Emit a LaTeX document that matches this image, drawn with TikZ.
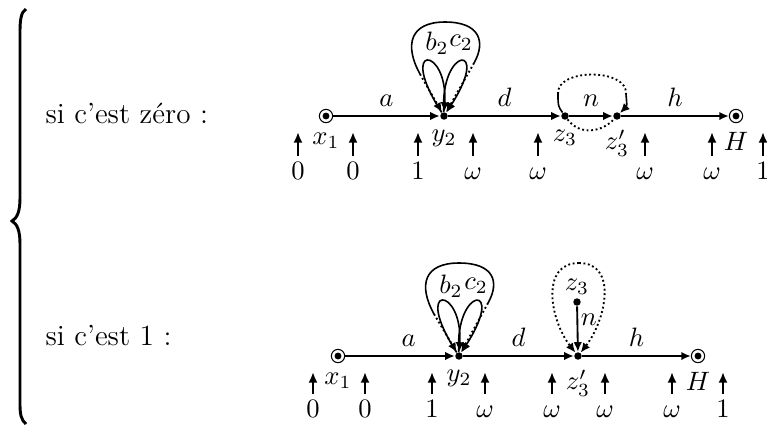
\documentclass[tikz,border=0pt]{standalone}
\usepackage{amsmath,amssymb}
\usepackage{tikz}
\usetikzlibrary{arrows.meta,positioning,calc}

\begin{document}
\begin{tikzpicture}[x=0.376pt, y=-0.376pt, >={Latex[length=3.6pt,width=3.2pt]},
  vtx/.style={circle, fill=black, inner sep=0pt, minimum size=2.8pt},
  term/.style={circle, draw, thin, inner sep=0pt, minimum size=5pt,
    path picture={\fill (path picture bounding box.center) circle (1.3pt);}},
  edge/.style={->, line width=0.7pt},
  lp/.style={line width=0.6pt},
  dlp/.style={line width=0.7pt, densely dotted},
  upar/.style={-{Latex[length=4pt,width=3.4pt]}, line width=1pt},
  wt/.style={anchor=base, text height=6.5pt, text depth=0pt, inner sep=2pt},
  case/.style={anchor=base west, inner sep=0pt, font=\fontsize{11}{13}\selectfont}]
  \useasboundingbox (0,0) rectangle (767,427);

  % left brace
  \draw[line width=1.1pt] (26,9) .. controls (21,12) and (20,20) .. (20,32)
    -- (20,198) .. controls (20,212) and (17,218) .. (12,221)
    .. controls (17,224) and (20,230) .. (20,244)
    -- (20,404) .. controls (20,414) and (21,420) .. (26,424);

  \node[case] (zero) at (45,123) {si c'est zéro :};
  \node[case] (one) at (45,345) {si c'est 1 :};

  % first line
  \node[term, label=below:$x_1$] (x1) at (326,116) {};
  \node[vtx, label=below:$y_2$] (y2) at (444,116) {};
  \node[vtx, label=below:$z_3$] (z3) at (565,116) {};
  \node[vtx, label=below:$z'_3$] (z3p) at (617,116) {};
  \node[term, label=below:$H$] (h1) at (736,116) {};
  \draw[edge] (x1) -- node[above] {$a$} (y2);
  \draw[edge] (y2) -- node[above] {$d$} (z3);
  \draw[edge] (z3) -- node[above] {$n$} (z3p);
  \draw[edge] (z3p) -- node[above] {$h$} (h1);

  % loops b2, c2 on y2
  \coordinate (ta) at (445,22);
  \coordinate (tl) at (420,74);
  \coordinate (tr) at (474,63);
  \draw[lp] (tl) .. controls (404,45) and (410,22) .. (ta)
    .. controls (480,22) and (486,42) .. (tr);
  \draw[dlp, ->] (tl) -- (y2);
  \draw[dlp, ->] (tr) -- (y2);
  \draw[lp, ->] (y2) .. controls (396,42) and (448,46) .. (y2);
  \draw[lp, ->] (y2) .. controls (440,46) and (492,42) .. (y2);
  \node (b2) at (437,43) {$b_2$};
  \node (c2) at (461,43) {$c_2$};

  % loop n between z3 and z3'
  \coordinate (nl) at (558,94);
  \coordinate (nr) at (626,94);
  \draw[lp] (z3) .. controls (558,106) .. (nl);
  \draw[dlp] (nl) .. controls (556,68) and (628,68) .. (nr);
  \draw[lp, ->] (nr) .. controls (627,106) .. (z3p);
  \draw[dlp] (z3) .. controls (580,136) and (602,132) .. (z3p);

  % weights, first line
  \node[wt] (w1) at (298,179) {$0$};
  \node[wt] (w2) at (353,179) {$0$};
  \node[wt] (w3) at (418,179) {$1$};
  \node[wt] (w4) at (473,179) {$\omega$};
  \node[wt] (w5) at (538,179) {$\omega$};
  \node[wt] (w6) at (645,179) {$\omega$};
  \node[wt] (w7) at (712,179) {$\omega$};
  \node[wt] (w8) at (763,179) {$1$};
  \coordinate (u1) at (298,132);
  \coordinate (u2) at (353,132);
  \coordinate (u3) at (418,132);
  \coordinate (u4) at (473,132);
  \coordinate (u5) at (538,132);
  \coordinate (u6) at (645,132);
  \coordinate (u7) at (712,132);
  \coordinate (u8) at (763,132);
  \draw[upar] (w1) -- (u1);
  \draw[upar] (w2) -- (u2);
  \draw[upar] (w3) -- (u3);
  \draw[upar] (w4) -- (u4);
  \draw[upar] (w5) -- (u5);
  \draw[upar] (w6) -- (u6);
  \draw[upar] (w7) -- (u7);
  \draw[upar] (w8) -- (u8);

  % second line
  \node[term, label=below:$x_1$] (x1b) at (338,356) {};
  \node[vtx, label=below:$y_2$] (y2b) at (459,356) {};
  \node[vtx, label=below:$z'_3$] (z3pb) at (578,356) {};
  \node[term, label=below:$H$] (hb) at (698,356) {};
  \node[vtx, label={[inner sep=1pt]above:$z_3$}] (z3b) at (577,302) {};
  \draw[edge] (x1b) -- node[above, pos=0.58] {$a$} (y2b);
  \draw[edge] (y2b) -- node[above] {$d$} (z3pb);
  \draw[edge] (z3pb) -- node[above] {$h$} (hb);
  \draw[edge] (z3b) -- node[right, pos=0.3, inner sep=1pt] {$n$} (z3pb);

  % loops b2, c2 on y2
  \coordinate (tab) at (459,263);
  \coordinate (tlb) at (434,314);
  \coordinate (trb) at (488,303);
  \draw[lp] (tlb) .. controls (418,285) and (424,263) .. (tab)
    .. controls (494,263) and (500,282) .. (trb);
  \draw[dlp, ->] (tlb) -- (y2b);
  \draw[dlp, ->] (trb) -- (y2b);
  \draw[lp, ->] (y2b) .. controls (411,282) and (463,286) .. (y2b);
  \draw[lp, ->] (y2b) .. controls (455,286) and (507,282) .. (y2b);
  \node (b2b) at (451,286) {$b_2$};
  \node (c2b) at (476,286) {$c_2$};

  % dotted loop round z3
  \coordinate (zt) at (579,263);
  \draw[dlp, ->] (zt) .. controls (540,263) and (550,320) .. (z3pb);
  \draw[dlp, ->] (zt) .. controls (618,263) and (606,320) .. (z3pb);

  % weights, second line
  \node[wt] (v1) at (313,417) {$0$};
  \node[wt] (v2) at (365,417) {$0$};
  \node[wt] (v3) at (432,417) {$1$};
  \node[wt] (v4) at (485,417) {$\omega$};
  \node[wt] (v5) at (552,417) {$\omega$};
  \node[wt] (v6) at (605,417) {$\omega$};
  \node[wt] (v7) at (672,417) {$\omega$};
  \node[wt] (v8) at (723,417) {$1$};
  \coordinate (s1) at (313,372);
  \coordinate (s2) at (365,372);
  \coordinate (s3) at (432,372);
  \coordinate (s4) at (485,372);
  \coordinate (s5) at (552,372);
  \coordinate (s6) at (605,372);
  \coordinate (s7) at (672,372);
  \coordinate (s8) at (723,372);
  \draw[upar] (v1) -- (s1);
  \draw[upar] (v2) -- (s2);
  \draw[upar] (v3) -- (s3);
  \draw[upar] (v4) -- (s4);
  \draw[upar] (v5) -- (s5);
  \draw[upar] (v6) -- (s6);
  \draw[upar] (v7) -- (s7);
  \draw[upar] (v8) -- (s8);
\end{tikzpicture}
\end{document}
